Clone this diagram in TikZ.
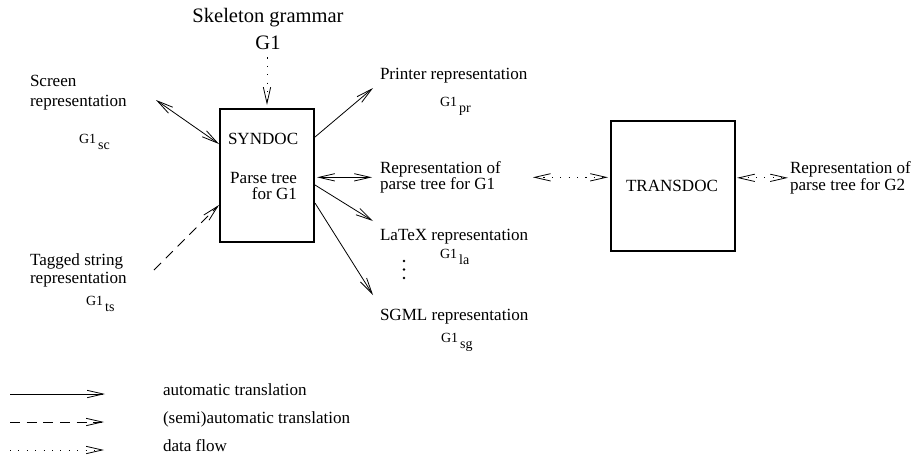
\documentclass[tikz,border=0pt]{standalone}
\usepackage{fontspec}
\setmainfont{Liberation Serif}
\usetikzlibrary{positioning,arrows.meta,calc}
\definecolor{ink}{HTML}{000000}

\tikzset{
  lbl/.style={inner sep=0pt, outer sep=0pt, text=ink, font=\fontsize{12.8}{15}\selectfont},
  sublbl/.style={inner sep=0pt, outer sep=0pt, text=ink, font=\fontsize{10.5}{12}\selectfont},
  box/.style={draw=ink, line width=0.8pt, inner sep=0pt, outer sep=0pt},
  conn/.style={draw=ink, line width=0.6pt, -{Straight Barb[length=12pt,width=5.5pt]}},
  both/.style={conn, {Straight Barb[length=12pt,width=5.5pt]}-{Straight Barb[length=12pt,width=5.5pt]}},
  semi/.style={dash pattern=on 7.5pt off 5pt},
  flow/.style={dash pattern=on 0.8pt off 5.5pt},
}
\newcommand{\gsub}[1]{G1\kern1.5pt\raisebox{-4.5pt}{#1}}

\begin{document}
\begin{tikzpicture}[x=0.75pt,y=-0.75pt]
\useasboundingbox (0,0) rectangle (914,457);

% the two tools
\node[box, minimum width=70.5pt, minimum height=99.75pt] (syn) at (267,175.5) {};
\node[box, minimum width=93pt, minimum height=97.5pt] (trans) at (673,186) {};
\node[lbl, anchor=base west] (synname) at (228,144) {SYNDOC};
\node[lbl, anchor=north east, align=right, font={\fontsize{12.8}{12}\selectfont\lineskiplimit=-20pt}] (syntree) at (297,172.5) {Parse tree\\for G1};
\node[lbl, anchor=base west] (transname) at (626,191) {TRANSDOC};

% grammar on top
\node[lbl, anchor=north, align=center, font={\fontsize{15.4}{20.25}\selectfont}] (skel) at (268,8) {Skeleton grammar\\G1};

% left side
\node[lbl, anchor=north west, align=left] (scr) at (30,75.5) {Screen\\representation};
\node[sublbl, anchor=base west] (scrsub) at (79,143) {\gsub{sc}};
\node[lbl, anchor=north west, align=left, font={\fontsize{12.8}{13.5}\selectfont}] (tag) at (30,253.5) {Tagged string\\representation};
\node[sublbl, anchor=base west] (tagsub) at (86,305) {\gsub{ts}};

% right side
\node[lbl, anchor=base west] (prn) at (380,79) {Printer representation};
\node[sublbl, anchor=base west] (prnsub) at (440,106) {\gsub{pr}};
\node[lbl, anchor=north west, align=left, font={\fontsize{12.8}{12}\selectfont\lineskiplimit=-20pt}] (rep1) at (380,161.5) {Representation of\\parse tree for G1};
\node[lbl, anchor=base west] (lat) at (380,240) {LaTeX representation};
\node[sublbl, anchor=base west] (latsub) at (440,258) {\gsub{la}};
\node[lbl, anchor=base west] (sgm) at (380,320) {SGML representation};
\node[sublbl, anchor=base west] (sgmsub) at (441,342) {\gsub{sg}};
\node[lbl, anchor=north west, align=left, font={\fontsize{12.8}{12.75}\selectfont\lineskiplimit=-20pt}] (rep2) at (790,161.5) {Representation of\\parse tree for G2};
\foreach \dy in {261,269.5,278} \fill[ink] (404,\dy) circle (1pt);

% free ends
\coordinate (scrend) at (156,100);
\coordinate (tagend) at (154,270);
\coordinate (prnend) at (373,88);
\coordinate (latend) at (373,221);
\coordinate (sgmend) at (373,295);

% connectors
\draw[conn, flow, shorten <=6pt, shorten >=3pt] (skel.south -| syn.north) -- (syn.north);
\draw[both] (scrend) -- ($(syn.north west)+(-1,35)$);
\draw[conn, semi] (tagend) -- ($(syn.north west)+(-1,96)$);
\draw[conn] ($(syn.north east)+(1,28)$) -- (prnend);
\draw[both, shorten <=2.25pt, shorten >=6pt] (rep1.west -| syn.east) -- (rep1.west);
\draw[conn] ($(syn.north east)+(1,76)$) -- (latend);
\draw[conn] ($(syn.north east)+(1,94)$) -- (sgmend);
\draw[both, flow, shorten <=24pt, shorten >=2.25pt] (rep1.east) -- (rep1.east -| trans.west);
\draw[both, flow, shorten <=1.5pt, shorten >=1.5pt] (trans.east |- rep2.west) -- (rep2.west);

% legend
\coordinate (l1a) at (10,394);
\coordinate (l1b) at (105,394);
\coordinate (l2a) at (10,422);
\coordinate (l2b) at (104,422);
\coordinate (l3a) at (10,450);
\coordinate (l3b) at (104,450);
\draw[conn] (l1a) -- (l1b);
\draw[conn, semi] (l2a) -- (l2b);
\draw[conn, flow] (l3a) -- (l3b);
\node[lbl, anchor=base west] (key1) at (163,395) {automatic translation};
\node[lbl, anchor=base west] (key2) at (163,423) {(semi)automatic translation};
\node[lbl, anchor=base west] (key3) at (163,451) {data flow};
\end{tikzpicture}
\end{document}
